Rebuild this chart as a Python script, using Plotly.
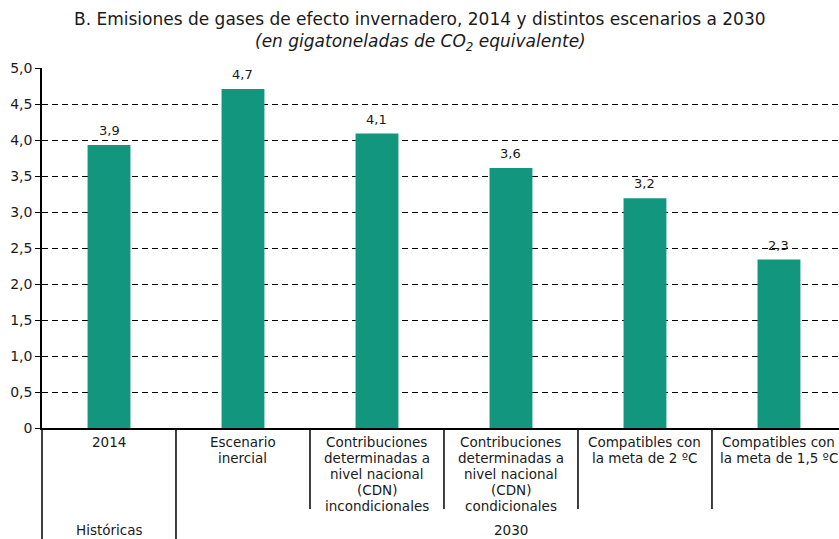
import plotly.graph_objects as go

# Emissions data (GtCO2e)
categories = [
    "2014",
    "Escenario<br>inercial",
    "Contribuciones<br>determinadas a<br>nivel nacional<br>(CDN)<br>incondicionales",
    "Contribuciones<br>determinadas a<br>nivel nacional<br>(CDN)<br>condicionales",
    "Compatibles con<br>la meta de 2 ºC",
    "Compatibles con<br>la meta de 1,5 ºC",
]
emissions = [3.93, 4.71, 4.09, 3.61, 3.19, 2.34]
groups = ["Históricas", "2030"]
group_centers = [0, 3]
y_tick_vals = [0, 0.5, 1.0, 1.5, 2.0, 2.5, 3.0, 3.5, 4.0, 4.5, 5.0]
y_tick_text = ["0", "0,5", "1,0", "1,5", "2,0", "2,5", "3,0", "3,5", "4,0", "4,5", "5,0"]

FONT = "DejaVu Sans, Liberation Sans, Arial, sans-serif"
TEXT_COLOR = "#1a1a1a"
BAR_COLOR = "#13967E"

W, H = 839, 539
M_L, M_T, M_B = 42, 68, 111
plot_h = H - M_T - M_B
axis_px = H - M_B  # pixel row of the x axis


def py(pix):
    """Pixel row -> paper y coordinate."""
    return (axis_px - pix) / plot_h


def fmt(v):
    return f"{v:.1f}".replace(".", ",")


x_idx = list(range(len(categories)))

fig = go.Figure()
fig.add_trace(go.Bar(
    x=x_idx,
    y=emissions,
    width=0.32,
    marker=dict(color=BAR_COLOR, line=dict(width=0)),
    hoverinfo="skip",
))

annotations = []
title_x = (420 - M_L) / (W - M_L)
annotations.append(dict(
    text="B. Emisiones de gases de efecto invernadero, 2014 y distintos escenarios a 2030",
    xref="paper", yref="paper", x=title_x, y=py(19),
    xanchor="center", yanchor="middle", showarrow=False,
    font=dict(family=FONT, size=17, color=TEXT_COLOR),
))
annotations.append(dict(
    text="<i>(en gigatoneladas de CO<sub>2</sub> equivalente)</i>",
    xref="paper", yref="paper", x=title_x, y=py(42),
    xanchor="center", yanchor="middle", showarrow=False,
    font=dict(family=FONT, size=17, color=TEXT_COLOR),
))

# Value labels above each bar
for i, v in enumerate(emissions):
    annotations.append(dict(
        text=fmt(v), xref="x", yref="y", x=i, y=v, yshift=5,
        xanchor="center", yanchor="bottom", showarrow=False,
        font=dict(family=FONT, size=13, color=TEXT_COLOR),
    ))

# Category labels under the axis, one line at a time for tight leading
for i, lab in enumerate(categories):
    for j, line in enumerate(lab.split("<br>")):
        annotations.append(dict(
            text=line, xref="x", yref="paper", x=i, y=py(442 + 16 * j),
            xanchor="center", yanchor="middle", showarrow=False,
            font=dict(family=FONT, size=13.5, color=TEXT_COLOR),
        ))

# Group labels
for g, c in zip(groups, group_centers):
    annotations.append(dict(
        text=g, xref="x", yref="paper", x=c, y=py(530),
        xanchor="center", yanchor="middle", showarrow=False,
        font=dict(family=FONT, size=13.5, color=TEXT_COLOR),
    ))

# Separator lines below the category axis
shapes = []
bottom_full = py(H + 2)
bottom_short = py(509)
shapes.append(dict(type="line", xref="paper", yref="paper", x0=0, x1=0,
                   y0=0, y1=bottom_full, line=dict(color="black", width=1.5)))
for k in range(len(categories) - 1):
    xs = k + 0.5
    yb = bottom_full if k == 0 else bottom_short
    shapes.append(dict(type="line", xref="x", yref="paper", x0=xs, x1=xs,
                       y0=0, y1=yb, line=dict(color="black", width=1.5)))

fig.update_layout(
    width=W, height=H,
    margin=dict(l=M_L, r=0, t=M_T, b=M_B),
    paper_bgcolor="white", plot_bgcolor="white",
    separators=",.",
    showlegend=False,
    annotations=annotations,
    shapes=shapes,
    font=dict(family=FONT, size=13, color=TEXT_COLOR),
)
fig.update_xaxes(
    range=[-0.5, 5.448], showticklabels=False, showgrid=False, zeroline=False,
    showline=True, linecolor="black", linewidth=1.5, ticks="", fixedrange=True,
)
fig.update_yaxes(
    range=[0, 5], tickvals=y_tick_vals, ticktext=y_tick_text,
    showgrid=True, gridcolor="black", gridwidth=1, griddash="6px,4px",
    zeroline=False, showline=True, linecolor="black", linewidth=1.5,
    ticks="outside", ticklen=5, tickcolor="black", tickwidth=1,
    tickfont=dict(family=FONT, size=14, color=TEXT_COLOR), fixedrange=True,
)

fig.write_html("out.html")
